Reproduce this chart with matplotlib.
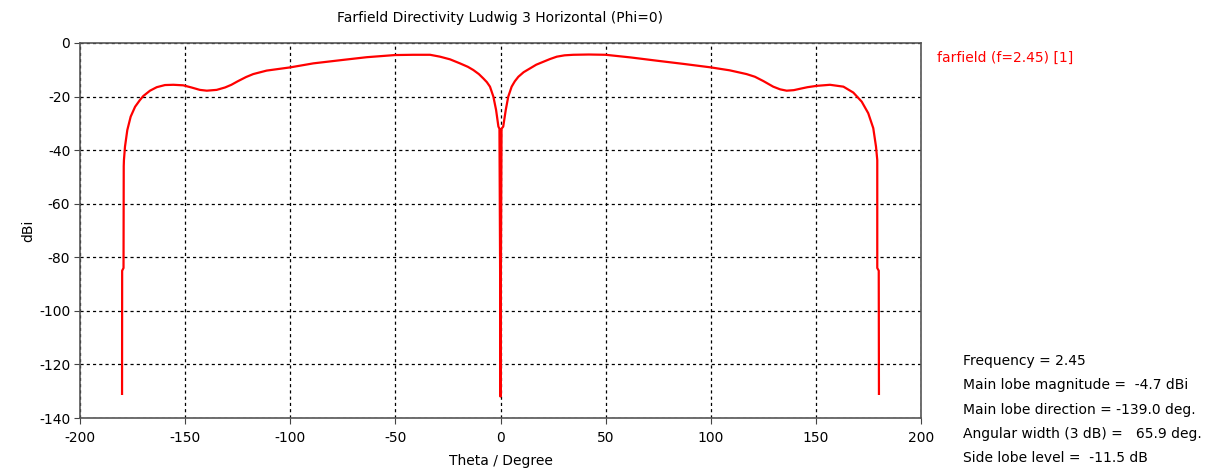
import matplotlib
matplotlib.use("Agg")
import matplotlib.pyplot as plt

# directivity cut (theta in degrees, dBi)
theta = [-180.0, -179.95, -179.3, -179.2, -179.1, -178.6, -177.5, -175.9, -173.8,
         -171.5, -169.9, -166.7, -163.5, -159.6, -155.6, -150.9, -147.0, -143.0,
         -139.7, -135.0, -131.0, -128.0, -125.0, -121.0, -117.6, -111.2, -100.0, -89.0,
         -74.8, -63.6, -50.2, -41.5, -33.5, -28.8, -24.0, -19.3, -15.5, -12.9,
         -10.3, -8.2, -6.5, -5.0, -3.4, -2.1, -1.0, -0.5, -0.2, 0.0, 0.2, 0.5,
         1.3, 2.5, 3.7, 5.3, 6.8, 8.5, 11.0, 14.0, 17.0, 20.4, 23.5, 26.8, 30.5,
         34.6, 42.0, 50.0, 62.0, 74.3, 87.0, 100.0, 109.0, 117.0, 121.0, 125.0, 129.7,
         133.0, 136.1, 139.5, 142.4, 146.0, 150.4, 156.7, 163.1, 167.8, 171.8,
         174.9, 177.3, 178.6, 179.2, 179.2, 179.9, 180.0]
dbi = [-131.0, -85.0, -84.0, -46.0, -43.7, -38.7, -32.5, -27.5, -23.8,
       -21.3, -19.8, -17.8, -16.5, -15.7, -15.6, -15.8, -16.6, -17.5,
       -17.8, -17.5, -16.6, -15.6, -14.3, -12.7, -11.6, -10.3, -9.1, -7.6,
       -6.3, -5.3, -4.5, -4.4, -4.4, -5.1, -6.1, -7.6, -8.9, -10.1,
       -11.6, -13.2, -14.6, -16.3, -20.0, -25.0, -31.2, -32.0, -82.0, -132.0, -82.0, -32.0,
       -31.2, -25.0, -20.0, -16.3, -14.3, -12.6, -10.9, -9.5, -8.1, -7.0, -6.0, -5.1, -4.6,
       -4.4, -4.3, -4.4, -5.4, -6.6, -7.8, -9.1, -10.2, -11.6, -12.6, -14.2, -16.3,
       -17.3, -17.8, -17.6, -17.1, -16.5, -16.0, -15.6, -16.3, -18.5, -21.9,
       -26.2, -31.8, -38.7, -43.7, -84.0, -85.0, -131.0]

xticks = [-200, -150, -100, -50, 0, 50, 100, 150, 200]
yticks = [0, -20, -40, -60, -80, -100, -120, -140]

info_lines = [
    "Frequency = 2.45",
    "Main lobe magnitude =  -4.7 dBi",
    "Main lobe direction = -139.0 deg.",
    "Angular width (3 dB) =   65.9 deg.",
    "Side lobe level =  -11.5 dB",
]

plt.rcParams['font.family'] = ['DejaVu Sans']
plt.rcParams['axes.unicode_minus'] = False

fig = plt.figure(figsize=(12.15, 4.74), dpi=100)
ax = fig.add_axes([80 / 1215, 1 - 418 / 474, (921 - 80) / 1215, (418 - 43) / 474])

ax.plot(theta, dbi, color='#ff0000', linewidth=1.6, solid_joinstyle='round')

ax.set_xlim(-200, 200)
ax.set_ylim(-140, 0)
ax.set_xticks(xticks)
ax.set_yticks(yticks)
ax.tick_params(labelsize=10, direction='out', length=4, color='#444444')
ax.tick_params(axis='x', pad=5)
ax.tick_params(axis='y', pad=3)
ax.grid(True, color='black', linestyle=(0, (2.5, 2.5)), linewidth=0.9)
for s in ax.spines.values():
    s.set_color('#555555')
    s.set_linewidth(1.2)

ax.set_xlabel("Theta / Degree", fontsize=10, labelpad=7)
ax.set_ylabel("dBi", fontsize=10, labelpad=3)
fig.text(500 / 1215, 1 - 18 / 474, "Farfield Directivity Ludwig 3 Horizontal (Phi=0)",
         ha='center', va='center', fontsize=10)

fig.text(937 / 1215, 1 - 58 / 474, "farfield (f=2.45) [1]", color='#ff0000',
         ha='left', va='center', fontsize=10)

for i, line in enumerate(info_lines):
    fig.text(963 / 1215, 1 - (361 + i * 24.3) / 474, line,
             ha='left', va='center', fontsize=10)

fig.savefig("out.png", dpi=100)
